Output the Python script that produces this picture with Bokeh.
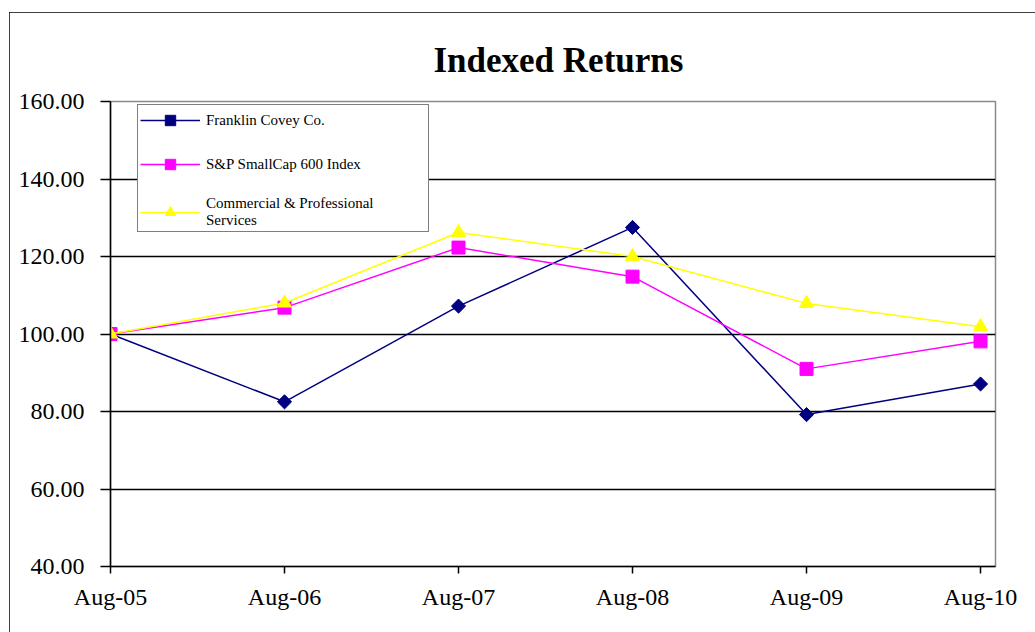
from bokeh.plotting import figure
from bokeh.models import FixedTicker, Legend, LegendItem, Range1d
from bokeh.embed import file_html
from bokeh.resources import INLINE

categories = ["Aug-05", "Aug-06", "Aug-07", "Aug-08", "Aug-09", "Aug-10"]
franklin = [100.0, 82.5, 107.2, 127.5, 79.2, 87.1]
sp600 = [100.0, 106.8, 122.3, 114.8, 91.0, 98.1]
commercial = [100.0, 108.0, 126.2, 120.0, 107.9, 101.9]
y_ticks = [40, 60, 80, 100, 120, 140, 160]

xs = list(range(len(categories)))
FONT = "Liberation Serif"

p = figure(width=1026, height=620, output_backend="svg", toolbar_location=None,
           x_range=Range1d(0, 5.086), y_range=Range1d(40, 160),
           title="Indexed Returns")
p.margin = (12, 0, 0, 9)
p.styles = {"outline": "1.5px solid black", "outline-offset": "-1.5px"}
p.min_border_left = 101
p.min_border_top = 89
p.min_border_bottom = 66
p.min_border_right = 40

p.title.align = "left"
p.title.text_font = FONT
p.title.text_font_size = "35px"
p.title.text_font_style = "bold"
p.title.text_color = "black"
p.title.offset = 323
p.title.standoff = 43

p.outline_line_color = "#8a8a8a"
p.outline_line_width = 1.5
p.background_fill_color = "white"
p.border_fill_color = "white"

p.xgrid.grid_line_color = None
p.ygrid.grid_line_color = "black"
p.ygrid.grid_line_width = 1.5
p.ygrid.ticker = FixedTicker(ticks=y_ticks)

p.yaxis.ticker = FixedTicker(ticks=y_ticks)
p.yaxis.major_label_overrides = {t: f"{t:.2f}" for t in y_ticks}
p.xaxis.ticker = FixedTicker(ticks=xs)
p.xaxis.major_label_overrides = {i: c for i, c in enumerate(categories)}

for ax in (p.xaxis, p.yaxis):
    ax.axis_line_color = "black"
    ax.axis_line_width = 1.5
    ax.major_tick_line_color = "black"
    ax.major_tick_line_width = 1.5
    ax.minor_tick_line_color = None
    ax.major_tick_in = 0
    ax.major_label_text_font = FONT
    ax.major_label_text_font_size = "24px"
    ax.major_label_text_color = "black"
p.yaxis.major_tick_out = 10
p.yaxis.major_label_standoff = 16
p.xaxis.major_tick_out = 7
p.xaxis.major_label_standoff = 10

navy = "#000080"
mag = "#FF00FF"
yel = "#FFFF00"

l1 = p.line(xs, franklin, line_color=navy, line_width=1.5)
m1 = p.scatter(xs, franklin, marker="square", angle=0.785398, size=10,
               fill_color=navy, line_color=navy)
l2 = p.line(xs, sp600, line_color=mag, line_width=1.5)
m2 = p.scatter(xs, sp600, marker="square", size=13, fill_color=mag, line_color=mag)
l3 = p.line(xs, commercial, line_color=yel, line_width=1.5)
m3 = p.scatter(xs, commercial, marker="triangle", size=14, fill_color=yel, line_color=yel)

legend = Legend(items=[
    LegendItem(label="Franklin Covey Co.", renderers=[l1, m1]),
    LegendItem(label="S&P SmallCap 600 Index", renderers=[l2, m2]),
    LegendItem(label="Commercial & Professional\nServices", renderers=[l3, m3]),
], location=(27, 334))
legend.border_line_color = "black"
legend.border_line_width = 1.5
legend.background_fill_alpha = 1
legend.label_text_font = FONT
legend.label_text_font_size = "15px"
legend.label_text_color = "black"
legend.glyph_width = 60
legend.glyph_height = 26
legend.label_height = 26
legend.label_width = 220
legend.label_standoff = 6
legend.spacing = 18
legend.padding = 2
legend.margin = 0
p.add_layout(legend, "center")

open("out.html", "w").write(file_html(p, INLINE))
